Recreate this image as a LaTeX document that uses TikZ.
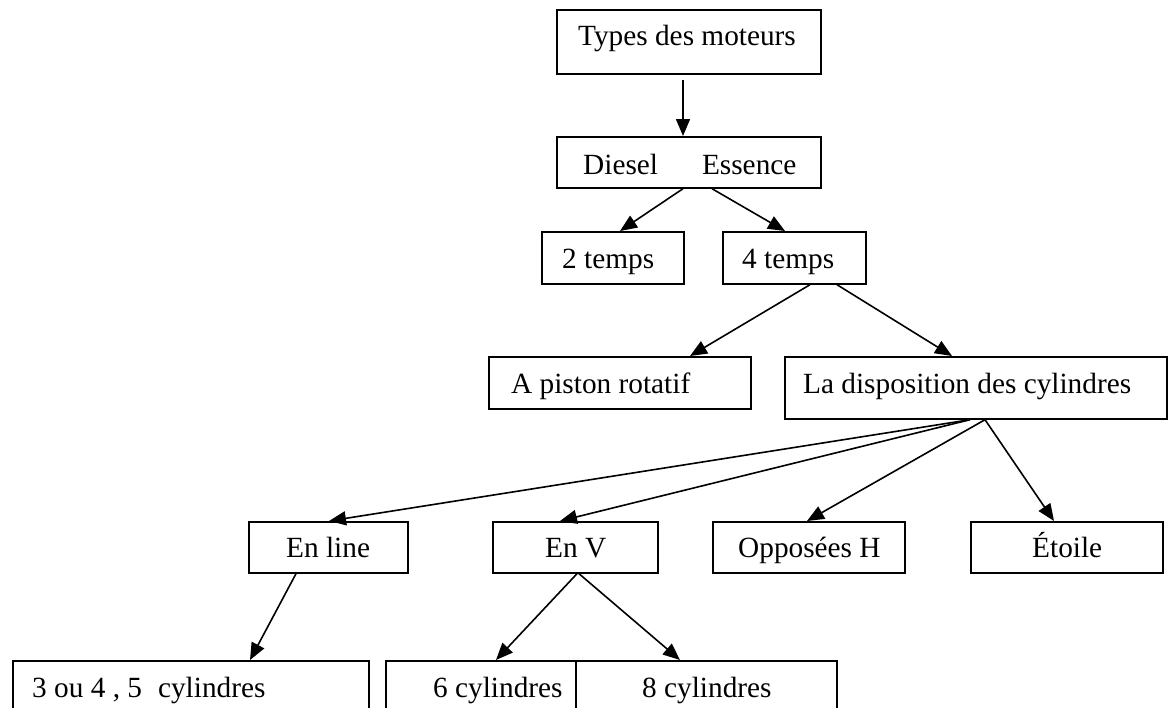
\documentclass[tikz,border=0pt]{standalone}
\usepackage{fontspec}
\setmainfont{Liberation Serif}
\usetikzlibrary{arrows.meta,calc}
\tikzset{
  box/.style={draw, line width=1.7pt, inner sep=0pt, anchor=north west},
  lbl/.style={anchor=base west, inner sep=0pt, font=\fontsize{29.3}{35}\selectfont},
  arr/.style={line width=1.6pt, -{Triangle[length=17pt,width=14pt]}}
}
\begin{document}
\begin{tikzpicture}[x=1pt,y=-1pt]
\clip (0,0) rectangle (1169,707);
\fill[white] (0,0) rectangle (1169,707);
% boxes
\node[box, minimum width=264pt, minimum height=64pt] (top) at (556,9) {};
\node[box, minimum width=264pt, minimum height=51pt] (diesel) at (556,136) {};
\node[box, minimum width=142pt, minimum height=52pt] (two) at (541,231) {};
\node[box, minimum width=143pt, minimum height=52pt] (four) at (722,231) {};
\node[box, minimum width=262pt, minimum height=52pt] (piston) at (488,356) {};
\node[box, minimum width=382pt, minimum height=62pt] (dispo) at (784,356) {};
\node[box, minimum width=159pt, minimum height=51pt] (enline) at (248,521) {};
\node[box, minimum width=165pt, minimum height=51pt] (env) at (492,521) {};
\node[box, minimum width=192pt, minimum height=51pt] (opp) at (712,521) {};
\node[box, minimum width=192pt, minimum height=51pt] (etoile) at (970,521) {};
\node[box, minimum width=356pt, minimum height=70pt] (three) at (12,660) {};
\node[box, minimum width=190pt, minimum height=70pt] (six) at (385,660) {};
\node[box, minimum width=261pt, minimum height=70pt] (eight) at (575,660) {};
% texts
\node[lbl] (ttop) at (578,45) {Types des moteurs};
\node[lbl] (tdiesel) at (583,174) {Diesel\hspace{44pt}Essence};
\node[lbl] (ttwo) at (562,268) {2 temps};
\node[lbl] (tfour) at (742,268) {4 temps};
\node[lbl] (tpiston) at (511,393) {A piston rotatif};
\node[lbl] (tdispo) at (803,393) {La disposition des cylindres};
\node[lbl] (tenline) at (286,557) {En line};
\node[lbl] (tenv) at (545,557) {En V};
\node[lbl] (topp) at (738,557) {Opposées H};
\node[lbl] (tetoile) at (1032,557) {Étoile};
\node[lbl] (tthree) at (32,697) {3 ou 4 , 5\hspace{16pt}cylindres};
\node[lbl] (tsix) at (433,697) {6 cylindres};
\node[lbl] (teight) at (642,697) {8 cylindres};
% connectors
\draw[arr] ($(top.south west)+(127,5)$) -- ($(diesel.north west)+(127,0)$);
\draw[arr] ($(diesel.south west)+(127,0)$) -- ($(two.north west)+(79,0)$);
\draw[arr] ($(diesel.south west)+(156,0)$) -- ($(four.north west)+(63,0)$);
\draw[arr] ($(four.south west)+(88,0)$) -- ($(piston.north west)+(202,0)$);
\draw[arr] ($(four.south west)+(115,0)$) -- ($(dispo.north west)+(168,0)$);
\draw[arr] ($(dispo.south west)+(186,0)$) -- ($(enline.north west)+(81,0)$);
\draw[arr] ($(dispo.south west)+(186,0)$) -- ($(env.north west)+(68,0)$);
\draw[arr] ($(dispo.south west)+(201,0)$) -- ($(opp.north west)+(95,0)$);
\draw[arr] ($(dispo.south west)+(201,0)$) -- ($(etoile.north west)+(84,0)$);
\draw[arr] ($(enline.south west)+(48,0)$) -- ($(three.north west)+(238,0)$);
\draw[arr] ($(env.south west)+(85,0)$) -- ($(six.north west)+(111,0)$);
\draw[arr] ($(env.south west)+(87,0)$) -- ($(eight.north west)+(105,0)$);
\end{tikzpicture}
\end{document}
